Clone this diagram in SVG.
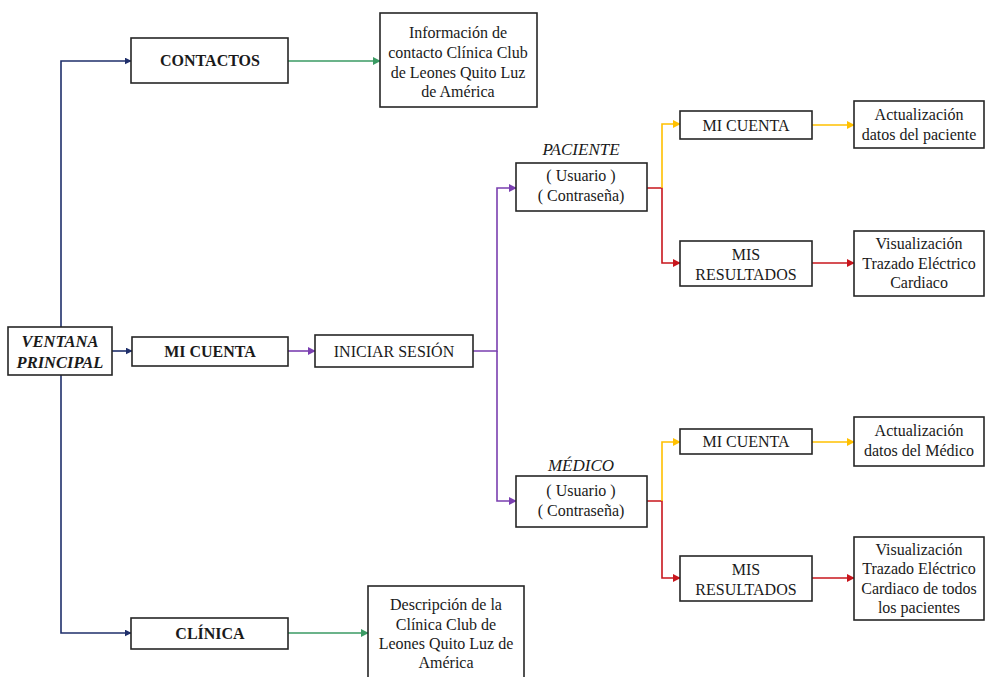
<svg xmlns="http://www.w3.org/2000/svg" width="985" height="677" viewBox="0 0 985 677" font-family="'Liberation Serif', 'DejaVu Serif', serif">
  <style>
    .box { fill: #ffffff; stroke: #262626; stroke-width: 1.6; }
    text { font-family: 'Liberation Serif', 'DejaVu Serif', serif; font-size: 16px; fill: #1a1a1a; text-anchor: middle; }
    .b { font-weight: bold; }
    .bi { font-weight: bold; font-style: italic; font-size: 16.5px; }
    .i { font-style: italic; font-size: 17px; }
    .c { fill: none; stroke-width: 1.6; }
    .navy { stroke: #1f2f6b; }
    .green { stroke: #3a9a63; }
    .purple { stroke: #7a3fb0; }
    .yellow { stroke: #ffc000; }
    .red { stroke: #c8161d; }
  </style>
  <defs>
    <marker id="ah-navy" viewBox="0 0 10 10" refX="9" refY="5" markerWidth="7" markerHeight="7" orient="auto" markerUnits="userSpaceOnUse"><path d="M0,0 L10,5 L0,10 z" fill="#1f2f6b"/></marker>
    <marker id="ah-green" viewBox="0 0 10 10" refX="9" refY="5" markerWidth="8" markerHeight="8" orient="auto" markerUnits="userSpaceOnUse"><path d="M0,0 L10,5 L0,10 z" fill="#3a9a63"/></marker>
    <marker id="ah-purple" viewBox="0 0 10 10" refX="9" refY="5" markerWidth="8" markerHeight="8" orient="auto" markerUnits="userSpaceOnUse"><path d="M0,0 L10,5 L0,10 z" fill="#7a3fb0"/></marker>
    <marker id="ah-yellow" viewBox="0 0 10 10" refX="9" refY="5" markerWidth="8" markerHeight="8" orient="auto" markerUnits="userSpaceOnUse"><path d="M0,0 L10,5 L0,10 z" fill="#ffc000"/></marker>
    <marker id="ah-red" viewBox="0 0 10 10" refX="9" refY="5" markerWidth="8" markerHeight="8" orient="auto" markerUnits="userSpaceOnUse"><path d="M0,0 L10,5 L0,10 z" fill="#c8161d"/></marker>
  </defs>
  <rect width="985" height="677" fill="#ffffff"/>

  <!-- connectors -->
  <g id="connectors">
    <path class="c navy" d="M61,327 V61 H131" marker-end="url(#ah-navy)"/>
    <path class="c navy" d="M112,351 H132" marker-end="url(#ah-navy)"/>
    <path class="c navy" d="M61,375 V633 H131" marker-end="url(#ah-navy)"/>
    <path class="c green" d="M288,61 H380" marker-end="url(#ah-green)"/>
    <path class="c green" d="M288,633 H368" marker-end="url(#ah-green)"/>
    <path class="c purple" d="M288,351 H315" marker-end="url(#ah-purple)"/>
    <path class="c purple" d="M473,351 H497 V188 H516" marker-end="url(#ah-purple)"/>
    <path class="c purple" d="M497,351 V501 H516" marker-end="url(#ah-purple)"/>
    <path class="c red" d="M647,188 H662 V263 H680" marker-end="url(#ah-red)"/>
    <path class="c yellow" d="M662,188 V124 H680" marker-end="url(#ah-yellow)"/>
    <path class="c yellow" d="M812,125 H854" marker-end="url(#ah-yellow)"/>
    <path class="c red" d="M812,263 H854" marker-end="url(#ah-red)"/>
    <path class="c red" d="M647,501 H662 V578 H680" marker-end="url(#ah-red)"/>
    <path class="c yellow" d="M662,501 V442 H680" marker-end="url(#ah-yellow)"/>
    <path class="c yellow" d="M812,442 H854" marker-end="url(#ah-yellow)"/>
    <path class="c red" d="M812,578 H854" marker-end="url(#ah-red)"/>
  </g>

  <g id="ventana">
    <rect class="box" x="8" y="327" width="104" height="48"/>
    <text class="bi" x="60" y="347">VENTANA</text>
    <text class="bi" x="60" y="368">PRINCIPAL</text>
  </g>

  <g id="contactos">
    <rect class="box" x="131" y="38" width="157" height="45"/>
    <text class="b" x="210" y="66">CONTACTOS</text>
  </g>

  <g id="info-contacto">
    <rect class="box" x="380" y="13" width="157" height="94"/>
    <text x="458" y="38">Información de</text>
    <text x="458" y="58">contacto Clínica Club</text>
    <text x="458" y="78">de Leones Quito Luz</text>
    <text x="458" y="97">de América</text>
  </g>

  <g id="mi-cuenta">
    <rect class="box" x="132" y="337" width="156" height="29"/>
    <text class="b" x="210" y="357">MI CUENTA</text>
  </g>

  <g id="iniciar-sesion">
    <rect class="box" x="315" y="335" width="158" height="32"/>
    <text x="394" y="357">INICIAR SESIÓN</text>
  </g>

  <g id="paciente">
    <text class="i" x="581" y="155">PACIENTE</text>
    <rect class="box" x="516" y="163" width="131" height="48"/>
    <text x="581" y="181">( Usuario )</text>
    <text x="581" y="201">( Contraseña)</text>
  </g>

  <g id="paciente-cuenta">
    <rect class="box" x="680" y="111" width="132" height="28"/>
    <text x="746" y="131">MI CUENTA</text>
  </g>

  <g id="paciente-actualizacion">
    <rect class="box" x="854" y="101" width="130" height="47"/>
    <text x="919" y="120">Actualización</text>
    <text x="919" y="140">datos del paciente</text>
  </g>

  <g id="paciente-resultados">
    <rect class="box" x="680" y="241" width="132" height="45"/>
    <text x="746" y="260">MIS</text>
    <text x="746" y="280">RESULTADOS</text>
  </g>

  <g id="paciente-visualizacion">
    <rect class="box" x="854" y="231" width="130" height="65"/>
    <text x="919" y="249">Visualización</text>
    <text x="919" y="269">Trazado Eléctrico</text>
    <text x="919" y="288">Cardiaco</text>
  </g>

  <g id="medico">
    <text class="i" x="581" y="471">MÉDICO</text>
    <rect class="box" x="516" y="476" width="131" height="51"/>
    <text x="581" y="496">( Usuario )</text>
    <text x="581" y="516">( Contraseña)</text>
  </g>

  <g id="medico-cuenta">
    <rect class="box" x="680" y="429" width="132" height="25"/>
    <text x="746" y="447">MI CUENTA</text>
  </g>

  <g id="medico-actualizacion">
    <rect class="box" x="854" y="417" width="130" height="49"/>
    <text x="919" y="436">Actualización</text>
    <text x="919" y="456">datos del Médico</text>
  </g>

  <g id="medico-resultados">
    <rect class="box" x="680" y="556" width="132" height="45"/>
    <text x="746" y="575">MIS</text>
    <text x="746" y="595">RESULTADOS</text>
  </g>

  <g id="medico-visualizacion">
    <rect class="box" x="854" y="537" width="130" height="83"/>
    <text x="919" y="555">Visualización</text>
    <text x="919" y="574">Trazado Eléctrico</text>
    <text x="919" y="594">Cardiaco de todos</text>
    <text x="919" y="613">los pacientes</text>
  </g>

  <g id="clinica">
    <rect class="box" x="131" y="618" width="157" height="31"/>
    <text class="b" x="210" y="639">CLÍNICA</text>
  </g>

  <g id="descripcion-clinica">
    <rect class="box" x="368" y="586" width="156" height="100"/>
    <text x="446" y="610">Descripción de la</text>
    <text x="446" y="630">Clínica Club de</text>
    <text x="446" y="649">Leones Quito Luz de</text>
    <text x="446" y="668">América</text>
  </g>
</svg>
